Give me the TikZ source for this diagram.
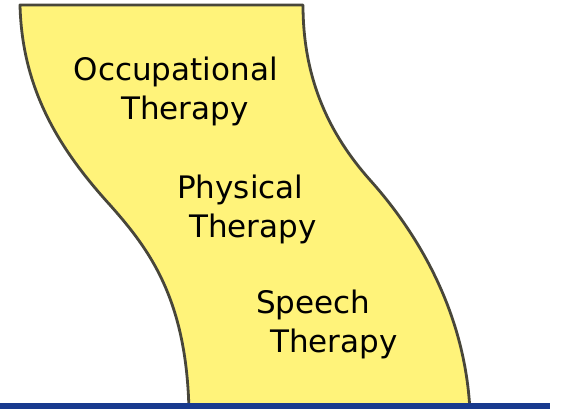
\documentclass[tikz,border=0pt]{standalone}
\usepackage{fontspec}
\setmainfont{DejaVu Sans}
\definecolor{ribbonfill}{RGB}{255,243,122}
\definecolor{ribbonline}{RGB}{72,70,58}
\definecolor{barblue}{RGB}{24,58,142}
\begin{document}
\begin{tikzpicture}[x=1pt,y=-1pt,
  label/.style={anchor=base west,inner sep=0pt,align=left,font=\fontsize{31}{38.5}\selectfont}]
\useasboundingbox (0,0) rectangle (571,409);
\fill[white] (0,0) rectangle (571,409);
% ribbon
\path[fill=ribbonfill,draw=ribbonline,line width=2.8pt,line join=round]
  (20,5) -- (303,5)
  .. controls (303,80) and (330,135) .. (370,180)
  .. controls (405,219) and (465,300) .. (470,412)
  -- (189,412)
  .. controls (187,300) and (150,250) .. (110,205)
  .. controls (60,150) and (22,90) .. (20,5)
  -- cycle;
% labels (base = baseline of last line)
\node[label] (ot) at (73.6,119.5) {Occupational\\\hspace*{47.5pt}Therapy};
\node[label] (pt) at (177,237) {Physical\\\hspace*{12pt}Therapy};
\node[label] (st) at (256,352) {Speech\\\hspace*{14pt}Therapy};
% bottom bar
\fill[barblue] (0,403) rectangle (550,409);
\end{tikzpicture}
\end{document}
